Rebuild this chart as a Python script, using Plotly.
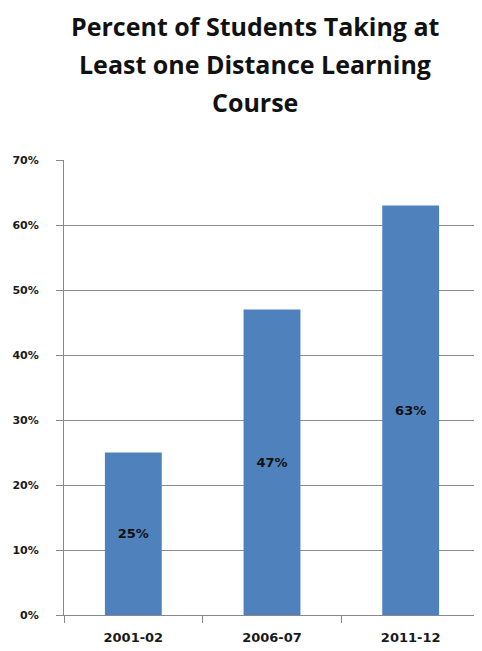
import plotly.graph_objects as go

categories = ["2001-02", "2006-07", "2011-12"]
values = [25, 47, 63]
bar_labels = ["25%", "47%", "63%"]
y_ticks = [0, 10, 20, 30, 40, 50, 60, 70]
y_tick_labels = ["0%", "10%", "20%", "30%", "40%", "50%", "60%", "70%"]
title_lines = ["Percent of Students Taking at", "Least one Distance Learning", "Course"]

# page body has an 8px margin; compensate so the figure fills the window
OFF = 8
W, H = 482 - OFF, 651 - OFF
ml, mr, mt, mb = 64 - OFF, 2, 160 - OFF, 36

fig = go.Figure()
fig.add_trace(go.Bar(
    x=categories, y=values, text=bar_labels,
    textposition="inside", insidetextanchor="middle",
    textfont=dict(family="DejaVu Sans", size=13, color="#111111", weight="bold"),
    marker=dict(color="#4F81BD", line=dict(width=0)),
    width=0.41, hoverinfo="skip",
))

plot_h = H - mt - mb
title_centers_px = [26 - OFF, 64 - OFF, 102 - OFF]
title_cx_px = 255 - OFF
for line, cy in zip(title_lines, title_centers_px):
    fig.add_annotation(
        text=line, xref="paper", yref="paper",
        x=(title_cx_px - ml) / (W - ml - mr), y=(H - mb - cy) / plot_h,
        xanchor="center", yanchor="middle", showarrow=False,
        font=dict(family="Open Sans", size=25, color="#111111", weight="bold"),
    )

fig.update_layout(
    width=W, height=H,
    margin=dict(l=ml, r=mr, t=mt, b=mb, pad=0),
    plot_bgcolor="white", paper_bgcolor="white",
    showlegend=False,
    xaxis=dict(
        type="category", range=[-0.5, 2.5],
        showline=True, linecolor="#888888", linewidth=1,
        ticks="outside", tickson="boundaries", ticklen=7, tickcolor="#888888",
        showgrid=False, ticklabelstandoff=10,
        tickfont=dict(family="DejaVu Sans", size=13, color="#1a1a1a", weight="bold"),
    ),
    yaxis=dict(
        range=[0, 70], tickvals=y_ticks, ticktext=y_tick_labels,
        showline=True, linecolor="#888888", linewidth=1,
        ticks="outside", ticklen=7, tickcolor="#888888",
        showgrid=True, gridcolor="#8c8c8c", gridwidth=1,
        zeroline=False, ticklabelstandoff=15,
        tickfont=dict(family="DejaVu Sans", size=11, color="#1a1a1a", weight="bold"),
    ),
)

fig.write_html("out.html")
